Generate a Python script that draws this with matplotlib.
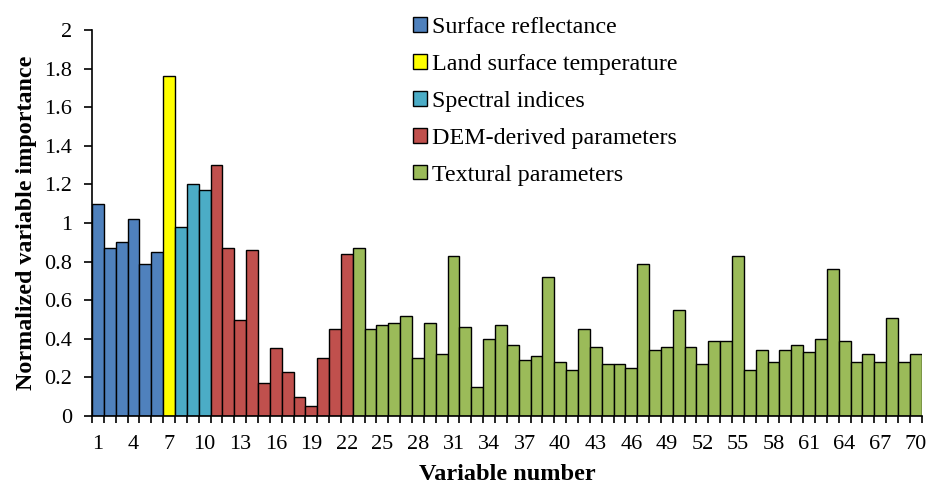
import matplotlib
matplotlib.use("Agg")
import matplotlib.pyplot as plt
from matplotlib.patches import Patch

# Variable importance per input variable (1..70)
variable_numbers = list(range(1, 71))
importance = [
    1.10, 0.87, 0.90, 1.02, 0.79, 0.85,            # surface reflectance
    1.76,                                          # land surface temperature
    0.98, 1.20, 1.17,                              # spectral indices
    1.30, 0.87, 0.50, 0.86, 0.17, 0.35, 0.23, 0.10, 0.05, 0.30, 0.45, 0.84,  # DEM
    0.87, 0.45, 0.47, 0.48, 0.52, 0.30, 0.48, 0.32, 0.83, 0.46,
    0.15, 0.40, 0.47, 0.37, 0.29, 0.31, 0.72, 0.28, 0.24, 0.45,
    0.36, 0.27, 0.27, 0.25, 0.79, 0.34, 0.36, 0.55, 0.36, 0.27,
    0.39, 0.39, 0.83, 0.24, 0.34, 0.28, 0.34, 0.37, 0.33, 0.40,
    0.76, 0.39, 0.28, 0.32, 0.28, 0.51, 0.28, 0.32,  # textural
]

group_names = [
    "Surface reflectance",
    "Land surface temperature",
    "Spectral indices",
    "DEM-derived parameters",
    "Textural parameters",
]
group_sizes = [6, 1, 3, 12, 48]
group_colors = ["#4F81BD", "#FFFF00", "#4BACC6", "#C0504D", "#9BBB59"]

x_tick_labels = list(range(1, 71, 3))
y_ticks = [0, 0.2, 0.4, 0.6, 0.8, 1, 1.2, 1.4, 1.6, 1.8, 2]

plt.rcParams["font.family"] = ["Liberation Serif", "DejaVu Serif"]

bar_colors = []
for color, n in zip(group_colors, group_sizes):
    bar_colors += [color] * n

fig = plt.figure(figsize=(9.3, 4.88), dpi=100)
ax = fig.add_axes([0.099, 0.1475, 0.892, 0.791])

ax.bar(variable_numbers, importance, width=1.0, color=bar_colors,
       edgecolor="black", linewidth=1.0, zorder=2)

ax.set_xlim(0.5, 70.5)
ax.set_ylim(0, 2)

ax.spines["top"].set_visible(False)
ax.spines["right"].set_visible(False)
for s in ("left", "bottom"):
    ax.spines[s].set_linewidth(1.2)

# tick marks at bar boundaries, labels under every third bar
ax.set_xticks([v + 0.5 for v in range(0, 71)])
ax.set_xticklabels([])
ax.set_xticks(x_tick_labels, minor=True)
ax.set_xticklabels([str(v) for v in x_tick_labels], minor=True)
ax.tick_params(axis="x", which="major", direction="out", length=5, width=1.2)
ax.tick_params(axis="x", which="minor", length=0, pad=14, labelsize=16)

ax.set_yticks(y_ticks)
ax.set_yticklabels([f"{v:g}" for v in y_ticks])
ax.tick_params(axis="y", direction="out", length=5.5, width=1.2, pad=9,
               labelsize=16)

ax.set_ylabel("Normalized variable importance", fontsize=17.3,
              fontweight="bold", labelpad=5)
ax.set_xlabel("Variable number", fontsize=17.5, fontweight="bold", labelpad=7)

handles = [Patch(facecolor=c, edgecolor="black", linewidth=1.0)
           for c in group_colors]
ax.legend(handles, group_names, loc="upper left",
          bbox_to_anchor=(0.375, 1.058), frameon=False, fontsize=17.3,
          handlelength=0.6, handleheight=0.55, handletextpad=0.2,
          labelspacing=0.66, borderaxespad=0)

fig.savefig("out.png", dpi=100)
